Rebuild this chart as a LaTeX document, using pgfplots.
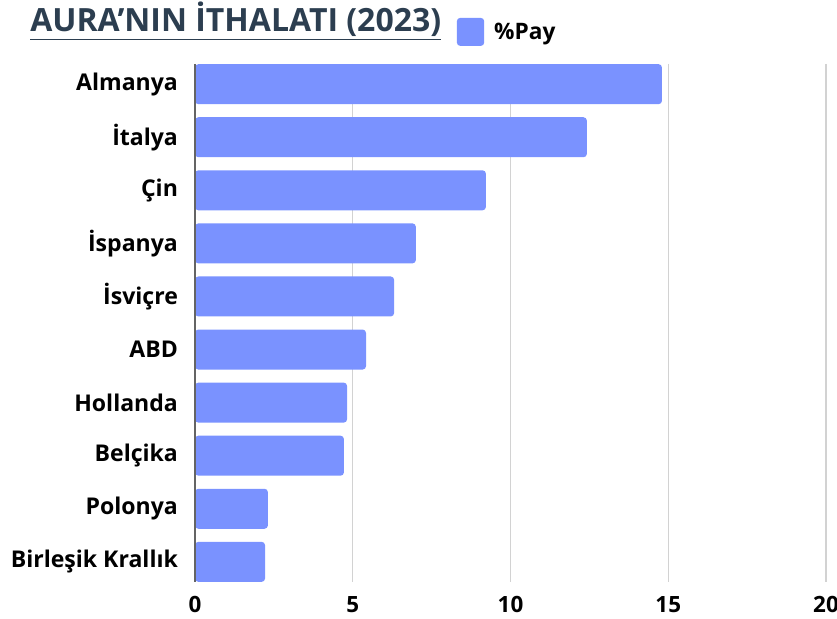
\documentclass[border=0pt]{standalone}
\usepackage{fontspec}
\setmainfont{Open Sans}
\usepackage{pgfplots}
\pgfplotsset{compat=1.18}
\definecolor{barblue}{RGB}{122,146,255}
\definecolor{titlecol}{RGB}{44,62,80}
\definecolor{gridgray}{RGB}{210,210,210}
\definecolor{axgray}{RGB}{100,100,100}
\begin{document}
\begin{tikzpicture}
\path[use as bounding box] (0,0) rectangle (627.75pt,463.5pt);
\begin{axis}[
  at={(146.25pt,27pt)}, anchor=south west,
  scale only axis, width=473.25pt, height=388.5pt,
  xbar, bar width=30pt, bar shift=0pt,
  xmin=0, xmax=20, ymin=-0.38, ymax=9.38, y dir=reverse,
  xtick={0,5,10,15,20},
  ytick={0,...,9},
  yticklabels={Almanya,İtalya,Çin,İspanya,İsviçre,ABD,Hollanda,Belçika,Polonya,Birleşik Krallık},
  tick style={draw=none},
  axis line style={draw=none},
  xmajorgrids, major grid style={gridgray, line width=0.9pt},
  /pgf/number format/assume math mode=true,
  xticklabel style={font=\fontsize{16.8}{18}\selectfont\bfseries, yshift=-7pt},
  yticklabel style={font=\fontsize{17.3}{19}\selectfont\bfseries, xshift=-5pt},
  legend style={at={(0.415,1.062)}, anchor=west, draw=none, fill=none, font=\fontsize{17}{19}\selectfont\bfseries, inner sep=0pt, outer sep=0pt},
  legend cell align=left,
  legend image code/.code={\fill[barblue] (0pt,-10.5pt) rectangle (20.5pt,10.5pt);},
  clip=false,
]
\addplot[draw=none, fill=barblue, rounded corners=2.5pt] coordinates {
 (14.8,0) (12.42,1) (9.22,2) (7.0,3) (6.31,4) (5.42,5) (4.82,6) (4.72,7) (2.31,8) (2.22,9)
};
\addlegendentry{\hspace{5.5pt}\%Pay}
\draw[axgray, line width=0.9pt] (axis cs:0,-0.38) -- (axis cs:0,9.38);
\end{axis}
\node[anchor=base west, inner sep=0pt, text=titlecol, font=\fontsize{24}{28}\selectfont\bfseries] at (22.5pt,439.5pt) {\underline{AURA’NIN İTHALATI (2023)}};
\end{tikzpicture}
\end{document}
